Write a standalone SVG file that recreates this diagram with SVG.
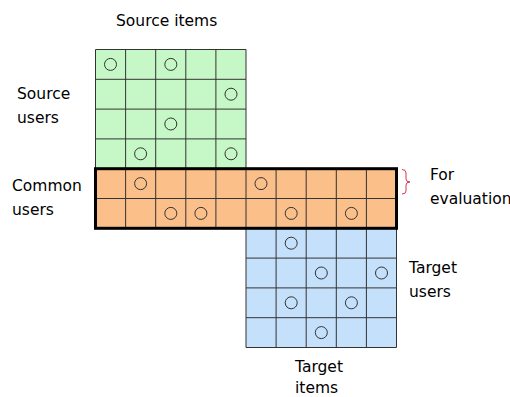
<svg xmlns="http://www.w3.org/2000/svg" width="510" height="397" viewBox="0 0 510 397">
<style>
.lbl{font-family:"DejaVu Sans",Verdana,sans-serif;font-size:15.5px;fill:#000}
.g{fill:#c6f7c6}
.o{fill:#fbbf89}
.b{fill:#c5e0fb}
.ln{stroke:#333;stroke-width:1;fill:none}
.c{fill:none;stroke:#333;stroke-width:1}
</style>
<rect width="510" height="397" fill="#fff"/>
<g id="source-block">
<rect class="g" x="95.5" y="49.5" width="150.5" height="119.2"/>
<path class="ln" d="M95.5,49.5H246V168.7M95.5,49.5V168.7M95.5,79.3H246M95.5,109.1H246M95.5,138.9H246M125.6,49.5V168.7M155.7,49.5V168.7M185.8,49.5V168.7M215.9,49.5V168.7"/>
<circle class="c" cx="110.5" cy="64.4" r="6"/>
<circle class="c" cx="170.8" cy="64.4" r="6"/>
<circle class="c" cx="231" cy="94.2" r="6"/>
<circle class="c" cx="170.8" cy="124" r="6"/>
<circle class="c" cx="140.6" cy="153.8" r="6"/>
<circle class="c" cx="231" cy="153.8" r="6"/>
</g>
<g id="target-block">
<rect class="b" x="246" y="228.3" width="150.5" height="119.2"/>
<path class="ln" d="M246,228.3V347.5H396.5V228.3M246,258.1H396.5M246,287.9H396.5M246,317.7H396.5M276.1,228.3V347.5M306.2,228.3V347.5M336.3,228.3V347.5M366.4,228.3V347.5"/>
<circle class="c" cx="291.2" cy="243.2" r="6"/>
<circle class="c" cx="321.3" cy="273" r="6"/>
<circle class="c" cx="381.5" cy="273" r="6"/>
<circle class="c" cx="291.2" cy="302.8" r="6"/>
<circle class="c" cx="351.4" cy="302.8" r="6"/>
<circle class="c" cx="321.3" cy="332.6" r="6"/>
</g>
<g id="common-block">
<rect class="o" x="95.5" y="168.7" width="301" height="59.6"/>
<path class="ln" d="M95.5,198.5H396.5M125.6,168.7V228.3M155.7,168.7V228.3M185.8,168.7V228.3M215.9,168.7V228.3M246,168.7V228.3M276.1,168.7V228.3M306.2,168.7V228.3M336.3,168.7V228.3M366.4,168.7V228.3"/>
<circle class="c" cx="140.6" cy="183.6" r="6"/>
<circle class="c" cx="261" cy="183.6" r="6"/>
<circle class="c" cx="170.8" cy="213.4" r="6"/>
<circle class="c" cx="200.9" cy="213.4" r="6"/>
<circle class="c" cx="291.2" cy="213.4" r="6"/>
<circle class="c" cx="351.4" cy="213.4" r="6"/>
<rect x="95.5" y="168.7" width="301" height="59.6" fill="none" stroke="#000" stroke-width="3"/>
</g>
<g id="connectors">
<path d="M402,169.5Q406,169.5 406,173V179Q406,182 410,182Q406,182 406,185V191Q406,194 402,194" fill="none" stroke="#d9344a" stroke-width="1"/>
</g>
<g id="labels">
<text class="lbl" x="116" y="26">Source items</text>
<text class="lbl" x="17" y="99">Source</text>
<text class="lbl" x="17" y="123">users</text>
<text class="lbl" x="12" y="191">Common</text>
<text class="lbl" x="12" y="215">users</text>
<text class="lbl" x="430" y="180">For</text>
<text class="lbl" x="430" y="204">evaluation</text>
<text class="lbl" x="409" y="273">Target</text>
<text class="lbl" x="409" y="297">users</text>
<text class="lbl" x="295" y="372">Target</text>
<text class="lbl" x="295" y="393">items</text>
</g>
</svg>
